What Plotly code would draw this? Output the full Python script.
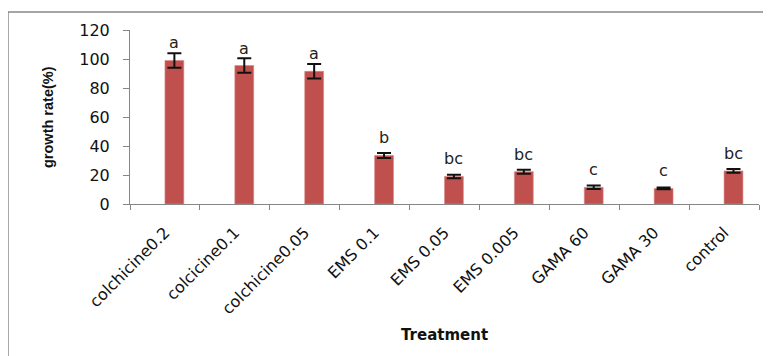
import plotly.graph_objects as go

treatments = ["colchicine0.2", "colcicine0.1", "colchicine0.05", "EMS 0.1", "EMS 0.05",
              "EMS 0.005", "GAMA 60", "GAMA 30", "control"]
growth_rate = [99, 95.5, 91.5, 33.5, 19, 22.3, 11.5, 10.7, 22.8]
error = [5, 5, 5, 1.7, 1.2, 1.4, 1.2, 0.6, 1.3]
letters = ["a", "a", "a", "b", "bc", "bc", "c", "c", "bc"]
y_ticks = [0, 20, 40, 60, 80, 100, 120]

BAR_W = 0.27
fig = go.Figure()
fig.add_trace(go.Bar(
    x=treatments, y=growth_rate, offset=0, width=BAR_W,
    marker=dict(color="#C0504D", line=dict(color="#D98A88", width=0.6)),
    error_y=dict(type="data", array=error, visible=True, color="#111111",
                 thickness=2, width=7),
    showlegend=False,
))

annotations = []
for i, (v, t) in enumerate(zip(growth_rate, letters)):
    annotations.append(dict(
        x=i + BAR_W / 2, y=v, xref="x", yref="y", text=t, showarrow=False,
        yanchor="bottom", yshift=6,
        font=dict(family="DejaVu Sans", size=16, color="#222222")))

annotations.append(dict(
    x=0, y=0.5, xref="paper", yref="paper", text="<b>growth rate(%)</b>",
    showarrow=False, textangle=-90, xanchor="center", yanchor="middle", xshift=-82,
    font=dict(family="Liberation Sans, Arial, sans-serif", size=14.5, color="#111111")))
annotations.append(dict(
    x=0.5, y=0, xref="paper", yref="paper", text="<b>Treatment</b>",
    showarrow=False, xanchor="center", yanchor="middle", yshift=-131,
    font=dict(family="DejaVu Sans", size=15, color="#111111")))

fig.update_layout(
    width=771, height=356,
    margin=dict(l=122, r=20, t=22, b=160),
    paper_bgcolor="white", plot_bgcolor="white",
    annotations=annotations,
    shapes=[dict(type="rect", xref="paper", yref="paper",
                 x0=-0.194, x1=1.2, y0=-1.2, y1=1.1034,
                 line=dict(color="#888888", width=1.5), layer="below")],
)
fig.update_xaxes(
    type="category", range=[-0.5, 8.5], showline=True, linecolor="#868686", linewidth=1,
    ticks="outside", tickson="boundaries", ticklen=5, tickcolor="#868686",
    tickangle=-45, ticklabelstandoff=12,
    tickfont=dict(family="DejaVu Sans", size=16, color="#111111"),
    showgrid=False, zeroline=False,
)
fig.update_yaxes(
    range=[0, 120], tickvals=y_ticks, showline=True, linecolor="#868686", linewidth=1,
    ticks="outside", ticklen=6, tickcolor="#868686", ticklabelstandoff=10,
    tickfont=dict(family="DejaVu Sans", size=16, color="#111111"),
    showgrid=False, zeroline=False,
)
fig.write_html("out.html")
